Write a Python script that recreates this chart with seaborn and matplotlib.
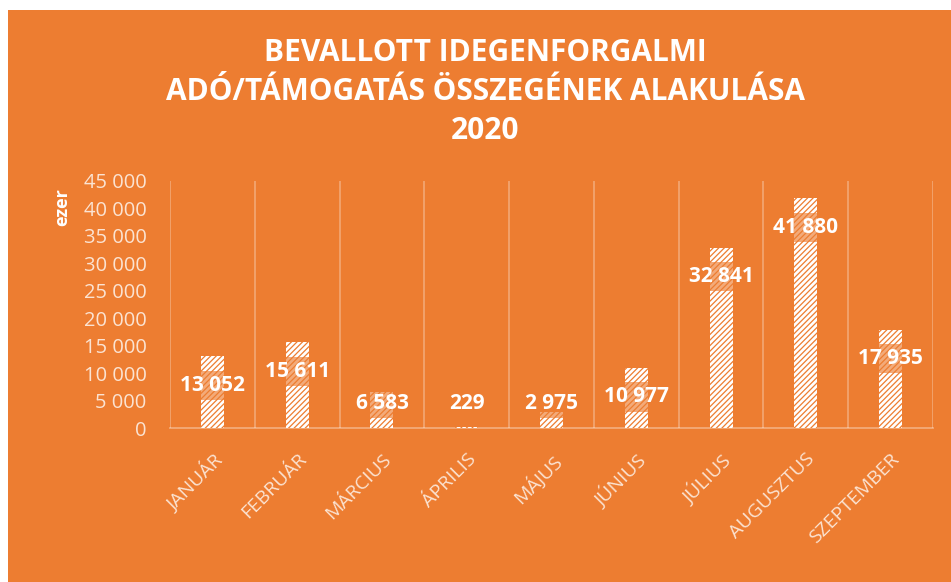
"""
Bevallott idegenforgalmi adó/támogatás összegének alakulása, 2020
"""

import matplotlib
matplotlib.use("Agg")
import matplotlib.pyplot as plt
import matplotlib.patches as mpatches
from matplotlib.ticker import FuncFormatter, MultipleLocator
import seaborn as sns
import pandas as pd

# adatok (ezer Ft)
honapok = ["JANUÁR", "FEBRUÁR", "MÁRCIUS", "ÁPRILIS", "MÁJUS",
           "JÚNIUS", "JÚLIUS", "AUGUSZTUS", "SZEPTEMBER"]
osszeg = [13052, 15611, 6583, 229, 2975, 10977, 32841, 41880, 17935]

cim = "BEVALLOTT IDEGENFORGALMI\nADÓ/TÁMOGATÁS ÖSSZEGÉNEK ALAKULÁSA\n2020"
y_cimke = "ezer"

NARANCS = "#ED7D31"
HALVANY = "#FBE3D2"

sns.set_theme(style="white")
plt.rcParams['font.family'] = ['Open Sans', 'DejaVu Sans']
plt.rcParams['hatch.linewidth'] = 0.9

df = pd.DataFrame({"honap": honapok, "osszeg": osszeg})

fig = plt.figure(figsize=(9.51, 5.82), dpi=100, facecolor="white")
# narancs háttér (fent és balra keskeny fehér sáv)
hatter = mpatches.Rectangle((8 / 951, 0), 1, (582 - 10) / 582,
                            transform=fig.transFigure,
                            facecolor=NARANCS, edgecolor="none", zorder=-10)
fig.patches.append(hatter)

ax = fig.add_axes([170 / 951, 1 - 428 / 582, (933 - 170) / 951, (428 - 181) / 582])
ax.set_facecolor("none")
ax.set_zorder(2)

sns.barplot(data=df, x="honap", y="osszeg", color="white", width=0.27,
            saturation=1, ax=ax, zorder=3)
for p in ax.patches:
    p.set_facecolor("white")
    p.set_edgecolor(NARANCS)
    p.set_hatch("//////")
    p.set_linewidth(0)

ax.set_ylim(0, 45000)
ax.set_xlim(-0.5, len(honapok) - 0.5)
ax.yaxis.set_major_locator(MultipleLocator(5000))
ax.yaxis.set_major_formatter(FuncFormatter(lambda v, _: f"{int(v):,}".replace(",", " ")))

# kategória-elválasztó függőleges vonalak
for i in range(len(honapok) + 1):
    ax.axvline(i - 0.5, color="white", alpha=0.3, lw=1.3, zorder=1)

for s in ["top", "right", "left"]:
    ax.spines[s].set_visible(False)
ax.spines["bottom"].set_color("white")
ax.spines["bottom"].set_alpha(0.35)
ax.spines["bottom"].set_linewidth(1.3)

ax.tick_params(axis="y", length=0, pad=17, labelsize=14.5, labelcolor=HALVANY)
ax.tick_params(axis="x", length=0, pad=16, labelsize=14, labelcolor=HALVANY)
ax.set_xlabel("")
ax.set_ylabel("")
plt.setp(ax.get_xticklabels(), rotation=45, ha="right", va="top",
         rotation_mode="anchor")

# adatcímkék
for i, v in enumerate(osszeg):
    ypos = max(v - 5300, 4500)
    ax.text(i, ypos, f"{v:,}".replace(",", " "), ha="center", va="center",
            color="white", fontsize=15, fontweight="bold", zorder=5,
            bbox=dict(boxstyle="square,pad=0.2", fc=NARANCS, ec="none", alpha=0.65))

fig.text(62 / 951, 1 - 207 / 582, y_cimke, rotation=90, ha="center", va="center",
         color="white", fontsize=13, fontweight="bold")

fig.text(485 / 951, 1 - 92 / 582, cim, ha="center", va="center", color="white",
         fontsize=21.5, fontweight="bold", linespacing=1.4)

fig.savefig("out.png", dpi=100, facecolor=fig.get_facecolor())
